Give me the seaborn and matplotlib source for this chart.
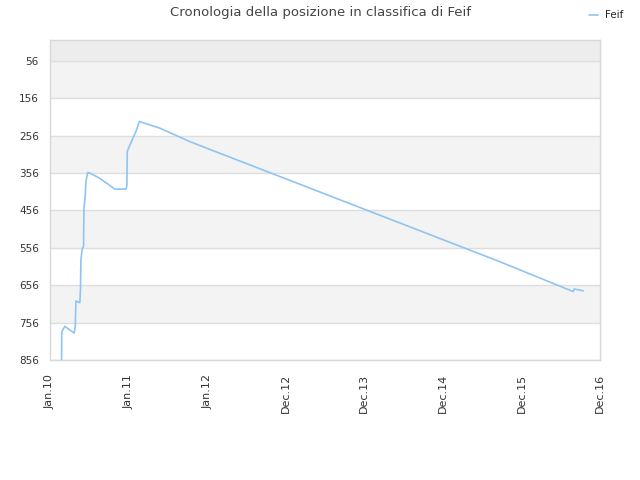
import matplotlib
matplotlib.use("Agg")
import matplotlib.pyplot as plt
import seaborn as sns
import pandas as pd
import numpy as np

# data
dates = ["2010-02-23", "2010-02-24", "2010-03-10", "2010-04-22", "2010-04-27",
         "2010-04-30", "2010-05-18", "2010-05-21", "2010-05-23", "2010-05-29",
         "2010-06-04", "2010-06-06", "2010-06-12", "2010-06-15", "2010-06-23",
         "2010-06-30", "2010-08-18", "2010-10-26", "2010-12-16", "2010-12-20",
         "2010-12-22", "2010-12-31", "2011-02-03", "2011-02-15", "2011-05-21",
         "2011-10-06", "2012-02-20", "2015-08-29", "2016-07-31", "2016-08-05",
         "2016-09-15"]
positions = [870, 781, 766, 784, 766,
             698, 703, 668, 588, 559,
             552, 450, 414, 379, 355,
             355, 370, 399, 399, 390,
             298, 285, 240, 218, 236,
             272, 303, 593, 673, 666,
             671]
y_ticks = [56, 156, 256, 356, 456, 556, 656, 756, 856]
x_labels = ["Jan.10", "Jan.11", "Jan.12", "Dec.12", "Dec.13", "Dec.14", "Dec.15", "Dec.16"]

df = pd.DataFrame({"date": pd.to_datetime(dates), "pos": positions, "name": "Feif"})

sns.set_style("white")
plt.rcParams['font.family'] = ['DejaVu Sans']

fig = plt.figure(figsize=(6.4, 4.8), dpi=100)
ax = fig.add_axes([50/640, 1-360/480, 550/640, 320/480])

# background bands
ax.axhspan(0, 56, color="#ededed", zorder=0, lw=0)
for i, t in enumerate(y_ticks[:-1]):
    if i % 2 == 0:
        ax.axhspan(t, t + 100, color="#f3f3f3", zorder=0, lw=0)
for t in y_ticks:
    ax.axhline(t, color="#dedede", lw=1, zorder=1)

sns.lineplot(data=df, x="date", y="pos", hue="name", palette=["#90c4f2"],
             lw=1.2, ax=ax, legend=False, zorder=3)

x0, x1 = pd.Timestamp("2010-01-01"), pd.Timestamp("2016-12-01")
ax.set_xlim(x0, x1)
ax.set_ylim(856, 0)
ax.set_yticks(y_ticks)
ax.set_yticklabels([str(t) for t in y_ticks])
xt = pd.to_datetime(np.linspace(x0.value, x1.value, len(x_labels)))
ax.set_xticks(xt)
ax.set_xticklabels(x_labels, rotation=90)
ax.tick_params(axis="y", length=0, labelsize=7.5, colors="#333333", pad=8)
ax.tick_params(axis="x", length=0, labelsize=8, colors="#333333", pad=10)
ax.set_xlabel("")
ax.set_ylabel("")
for s in ax.spines.values():
    s.set_color("#d8d8d8")
    s.set_linewidth(1)

fig.suptitle("Cronologia della posizione in classifica di Feif", x=0.5, y=0.988,
             fontsize=9.5, color="#444444")
handle = plt.Line2D([], [], color="#90c4f2", lw=1.2)
fig.legend([handle], ["Feif"], loc="upper right", bbox_to_anchor=(0.988, 0.998),
           frameon=False, fontsize=7.5, handlelength=0.9, handletextpad=0.6)

fig.savefig("out.png", dpi=100)
